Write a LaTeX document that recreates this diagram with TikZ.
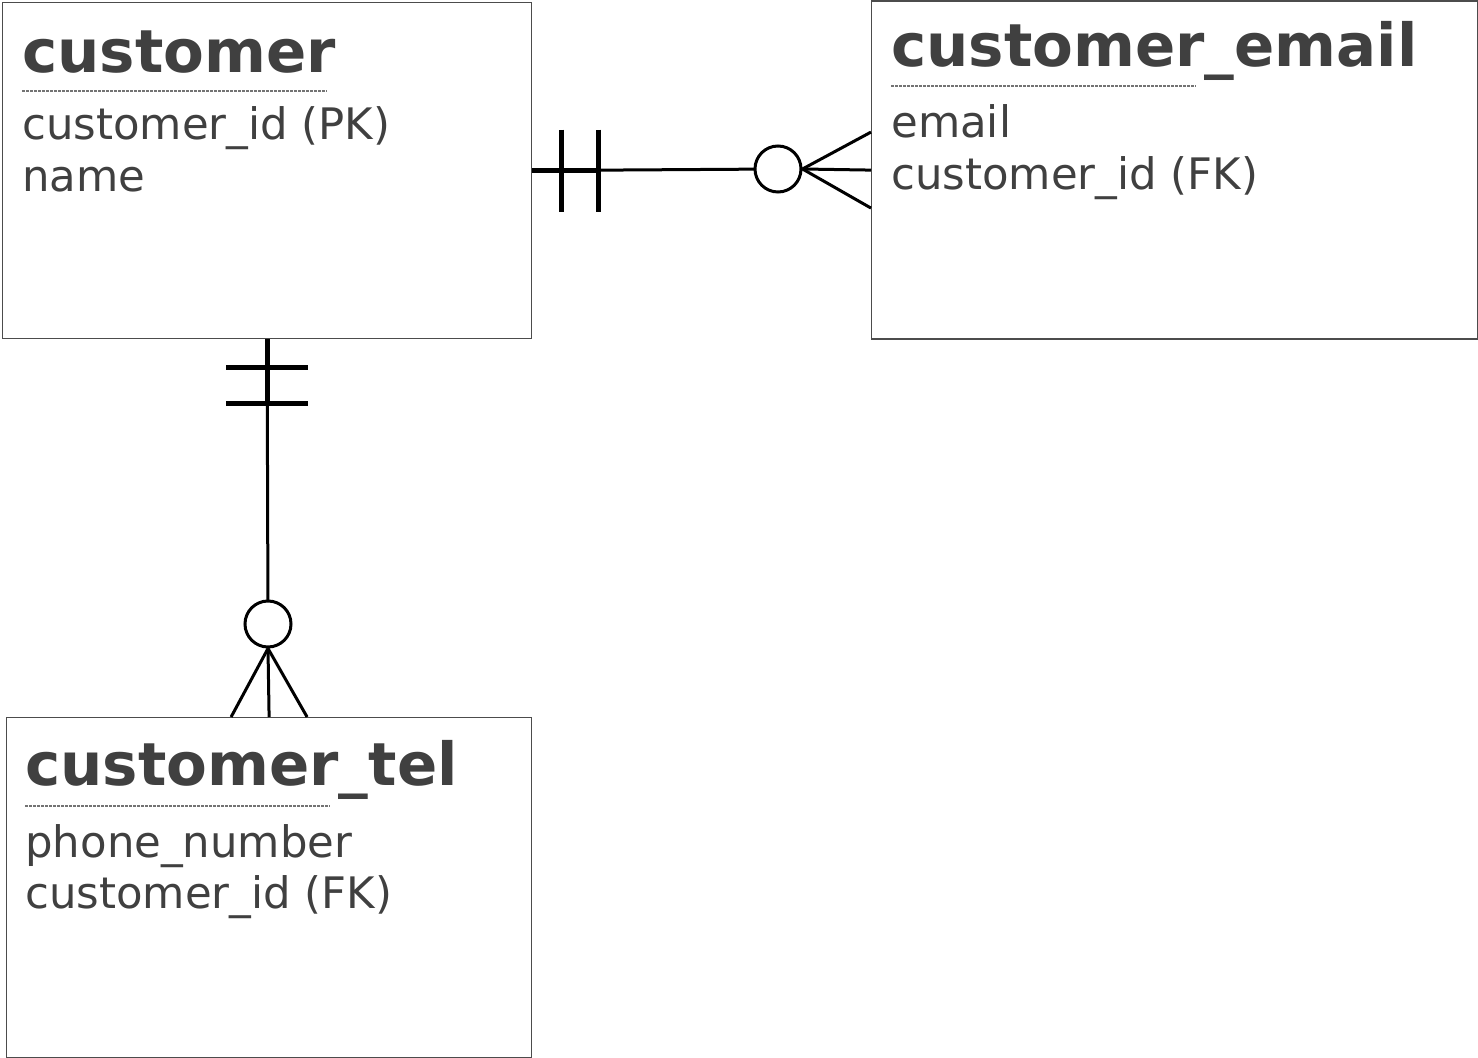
\documentclass[tikz,border=0pt]{standalone}
\usepackage{fontspec}
\setmainfont{DejaVu Sans}
\usetikzlibrary{positioning}
\usetikzlibrary{calc}

\begin{document}
\begin{tikzpicture}[x=.5pt, y=-.5pt]
    \colorlet{border}{black!70}
\colorlet{ink}{black!75}
\colorlet{rule}{black!55}

\newcommand\ringsize{23pt}
\newcommand\barhalf{41}
\newcommand\footspread{38}
\newcommand\rulelength{305}

\tikzset{
    entity box/.style={
        draw=border, line width=.6pt, rectangle,
        anchor=north west, inner sep=0pt,
    },
    entity title/.style={
        ink, anchor=base west, inner sep=0pt,
        font=\bfseries\fontsize{29.7}{36}\selectfont,
    },
    field/.style={
        ink, anchor=base west, inner sep=0pt,
        font=\fontsize{21.7}{26}\selectfont,
    },
    key rule/.style={rule, line width=.7pt, dash pattern=on 1.5pt off .5pt},
    link/.style={line width=1.5pt},
    one bar/.style={line width=2.5pt},
    zero ring/.style={
        draw, circle, line width=1.5pt, fill=white,
        minimum size=\ringsize, inner sep=0pt,
    },
}

\useasboundingbox (0, 0) rectangle (1478, 1058);

% entities
\node[entity box, minimum width=264.5pt, minimum height=168pt] at (2, 2) (customer) {};
\node[entity box, minimum width=303pt, minimum height=169pt] at (871, .5) (email) {};
\node[entity box, minimum width=262.5pt, minimum height=170pt] at (6, 717) (tel) {};

\node[entity title] at (22, 73) (customer-title) {customer};
\draw[key rule] ($(customer-title.base west)+(0, 18)$) -- ++(\rulelength, 0);
\node[field] at (22, 140) (customer-pk) {customer\_id (PK)};
\node[field] at (22, 192) (customer-name) {name};

\node[entity title] at (891, 67) (email-title) {customer\_email};
\draw[key rule] ($(email-title.base west)+(0, 19)$) -- ++(\rulelength, 0);
\node[field] at (891, 138) (email-addr) {email};
\node[field] at (891, 190) (email-fk) {customer\_id (FK)};

\node[entity title] at (25, 785) (tel-title) {customer\_tel};
\draw[key rule] ($(tel-title.base west)+(0, 21)$) -- ++(\rulelength, 0);
\node[field] at (25, 857) (tel-number) {phone\_number};
\node[field] at (25, 908) (tel-fk) {customer\_id (FK)};

% customer -- customer_email
\draw[link] (customer.east) -- (778, 169) coordinate (email-ring-c);
\draw[one bar] (customer.east) -- ++(66, 0);
\draw[one bar] ($(customer.east)+(29, -\barhalf)$) -- ++(0, 2 * \barhalf);
\draw[one bar] ($(customer.east)+(66, -\barhalf)$) -- ++(0, 2 * \barhalf);
\node[zero ring] at (email-ring-c) (email-ring) {};
\draw[link] (email-ring.east) -- ($(email.west)+(0, -\footspread)$);
\draw[link] (email-ring.east) -- (email.west);
\draw[link] (email-ring.east) -- ($(email.west)+(0, \footspread)$);

% customer -- customer_tel
\draw[link] (customer.south) -- (268, 624) coordinate (tel-ring-c);
\draw[one bar] (customer.south) -- ++(0, 64);
\draw[one bar] ($(customer.south)+(-\barhalf, 28)$) -- ++(2 * \barhalf, 0);
\draw[one bar] ($(customer.south)+(-\barhalf, 64)$) -- ++(2 * \barhalf, 0);
\node[zero ring] at (tel-ring-c) (tel-ring) {};
\draw[link] (tel-ring.south) -- ($(tel.north)+(-\footspread, 0)$);
\draw[link] (tel-ring.south) -- (tel.north);
\draw[link] (tel-ring.south) -- ($(tel.north)+(\footspread, 0)$);
\end{tikzpicture}
\end{document}
